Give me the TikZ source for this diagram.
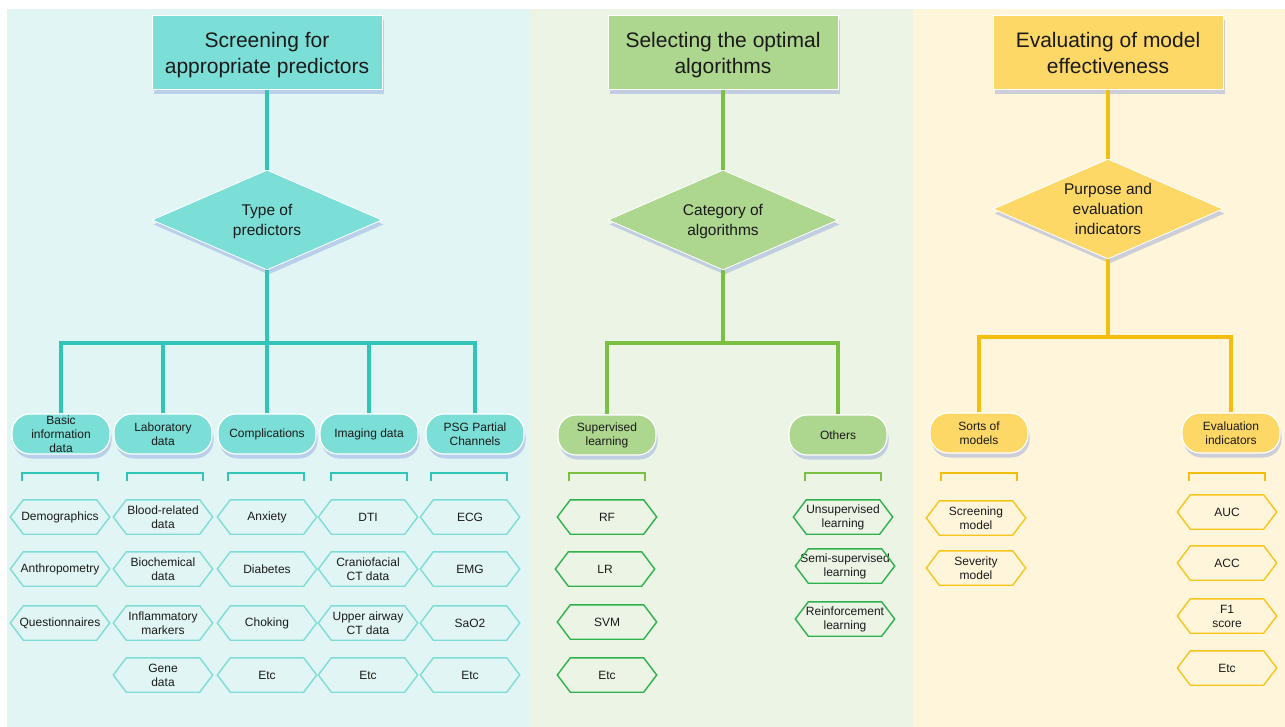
\documentclass[tikz,border=0pt]{standalone}
\usepackage{fontspec}
\setmainfont{Liberation Sans}
\usetikzlibrary{shapes.geometric,shadows,calc}
\definecolor{bgL}{HTML}{E1F6F4}
\definecolor{bgM}{HTML}{EBF4E5}
\definecolor{bgR}{HTML}{FEF5DA}
\definecolor{fillL}{HTML}{7BDFD8}
\definecolor{lineL}{HTML}{33C4B8}
\definecolor{hexL}{HTML}{7EDCD4}
\definecolor{fillM}{HTML}{ADD68F}
\definecolor{lineM}{HTML}{7AC143}
\definecolor{hexM}{HTML}{2EB04B}
\definecolor{fillR}{HTML}{FDD866}
\definecolor{lineR}{HTML}{F4BE0F}
\definecolor{hexR}{HTML}{F6C519}
\definecolor{shadowblue}{RGB}{115,135,215}
\definecolor{txt}{HTML}{1A1A1A}
\tikzset{
  myshadow/.style={drop shadow={shadow xshift=1.5pt, shadow yshift=-4.5pt, fill=shadowblue, opacity=0.35}},
  hdr/.style={draw=white, line width=1pt, minimum width=230pt, minimum height=74pt, inner sep=0pt, align=center, text=txt, text depth=0pt, font=\fontsize{21}{25.5}\selectfont, myshadow},
  dia/.style={diamond, aspect=2.3, draw=white, line width=0.8pt, minimum width=230pt, minimum height=100pt, inner sep=0pt, align=center, text=txt, text depth=0pt, font=\fontsize{15.5}{19.5}\selectfont, myshadow},
  cat/.style={rounded corners=18pt, draw=white, line width=1.2pt, minimum width=98pt, minimum height=40pt, inner sep=0pt, align=center, text=txt, font=\fontsize{12}{14}\selectfont, myshadow},
  hexbox/.style={minimum width=99pt, minimum height=34pt, inner sep=0pt, align=center, text=txt, font=\fontsize{12}{14}\selectfont},
  conn/.style={line width=3.8pt, line join=miter},
  brack/.style={line width=1.6pt},
}
\newcommand{\hexnode}[5]{%
  \node[hexbox] (#1) at (#2,#3) {#4};
  \draw[#5, line width=1.4pt, line join=miter] (#1.west) -- ([xshift=13pt]#1.north west) -- ([xshift=-13pt]#1.north east) -- (#1.east) -- ([xshift=-13pt]#1.south east) -- ([xshift=13pt]#1.south west) -- cycle;}
\newcommand{\brk}[2]{%
  \draw[brack, #2] (#1-38,481) -- (#1-38,473) -- (#1+38,473) -- (#1+38,481);}
\begin{document}
\begin{tikzpicture}[x=1pt,y=-1pt]
\useasboundingbox (0,0) rectangle (1285,727);
\fill[white] (0,0) rectangle (1285,727);
\fill[bgL] (7,9) rectangle (530,727);
\fill[bgM] (530,9) rectangle (913,727);
\fill[bgR] (913,9) rectangle (1285,727);

% ---------------- Left column ----------------
\node[hdr, fill=fillL] (hL) at (267,53) {Screening for\\appropriate predictors};
\node[dia, fill=fillL] (dL) at (267,220) {Type of\\predictors};
\coordinate (busL) at (267,343);
\node[cat, fill=fillL] (cL1) at (61,434) {Basic\\information\\data};
\node[cat, fill=fillL] (cL2) at (163,434) {Laboratory\\data};
\node[cat, fill=fillL] (cL3) at (267,434) {Complications};
\node[cat, fill=fillL] (cL4) at (369,434) {Imaging data};
\node[cat, fill=fillL] (cL5) at (475,434) {PSG Partial\\Channels};
\draw[conn, lineL] (hL.south) -- (dL.north);
\draw[conn, lineL] (dL.south) -- (busL);
\draw[conn, lineL] (cL1.north) -- (cL1.north |- busL) -- (cL5.north |- busL) -- (cL5.north);
\draw[conn, lineL] (cL2.north) -- (cL2.north |- busL);
\draw[conn, lineL] (cL3.north) -- (cL3.north |- busL);
\draw[conn, lineL] (cL4.north) -- (cL4.north |- busL);
\brk{60}{lineL}\brk{165}{lineL}\brk{266}{lineL}\brk{369}{lineL}\brk{469}{lineL}
\hexnode{a1}{60}{517}{Demographics}{hexL}
\hexnode{a2}{60}{569}{Anthropometry}{hexL}
\hexnode{a3}{60}{623}{Questionnaires}{hexL}
\hexnode{b1}{163}{517}{Blood-related\\data}{hexL}
\hexnode{b2}{163}{569}{Biochemical\\data}{hexL}
\hexnode{b3}{163}{623}{Inflammatory\\markers}{hexL}
\hexnode{b4}{163}{675}{Gene\\data}{hexL}
\hexnode{c1}{267}{517}{Anxiety}{hexL}
\hexnode{c2}{267}{569}{Diabetes}{hexL}
\hexnode{c3}{267}{623}{Choking}{hexL}
\hexnode{c4}{267}{675}{Etc}{hexL}
\hexnode{d1}{368}{517}{DTI}{hexL}
\hexnode{d2}{368}{569}{Craniofacial\\CT data}{hexL}
\hexnode{d3}{368}{623}{Upper airway\\CT data}{hexL}
\hexnode{d4}{368}{675}{Etc}{hexL}
\hexnode{e1}{470}{517}{ECG}{hexL}
\hexnode{e2}{470}{569}{EMG}{hexL}
\hexnode{e3}{470}{623}{SaO2}{hexL}
\hexnode{e4}{470}{675}{Etc}{hexL}

% ---------------- Middle column ----------------
\node[hdr, fill=fillM] (hM) at (723,53) {Selecting the optimal\\algorithms};
\node[dia, fill=fillM] (dM) at (723,220) {Category of\\algorithms};
\coordinate (busM) at (723,343);
\node[cat, fill=fillM] (cM1) at (607,435) {Supervised\\learning};
\node[cat, fill=fillM] (cM2) at (838,435) {Others};
\draw[conn, lineM] (hM.south) -- (dM.north);
\draw[conn, lineM] (dM.south) -- (busM);
\draw[conn, lineM] (cM1.north) -- (cM1.north |- busM) -- (cM2.north |- busM) -- (cM2.north);
\brk{607}{lineM}\brk{843}{lineM}
\hexnode{m1}{607}{517}{RF}{hexM}
\hexnode{m2}{605}{569}{LR}{hexM}
\hexnode{m3}{607}{622}{SVM}{hexM}
\hexnode{m4}{607}{675}{Etc}{hexM}
\hexnode{n1}{843}{517}{Unsupervised\\learning}{hexM}
\hexnode{n2}{845}{566}{Semi-supervised\\learning}{hexM}
\hexnode{n3}{845}{619}{Reinforcement\\learning}{hexM}

% ---------------- Right column ----------------
\node[hdr, fill=fillR] (hR) at (1108,53) {Evaluating of model\\effectiveness};
\node[dia, fill=fillR, font=\fontsize{15.5}{20}\selectfont] (dR) at (1108,209) {Purpose and\\evaluation\\indicators};
\coordinate (busR) at (1108,337);
\node[cat, fill=fillR] (cR1) at (979,433) {Sorts of\\models};
\node[cat, fill=fillR] (cR2) at (1231,433) {Evaluation\\indicators};
\draw[conn, lineR] (hR.south) -- (dR.north);
\draw[conn, lineR] (dR.south) -- (busR);
\draw[conn, lineR] (cR1.north) -- (cR1.north |- busR) -- (cR2.north |- busR) -- (cR2.north);
\brk{979}{lineR}\brk{1227}{lineR}
\hexnode{r1}{976}{518}{Screening\\model}{hexR}
\hexnode{r2}{976}{568}{Severity\\model}{hexR}
\hexnode{s1}{1227}{512}{AUC}{hexR}
\hexnode{s2}{1227}{563}{ACC}{hexR}
\hexnode{s3}{1227}{616}{F1\\score}{hexR}
\hexnode{s4}{1227}{668}{Etc}{hexR}
\end{tikzpicture}
\end{document}
